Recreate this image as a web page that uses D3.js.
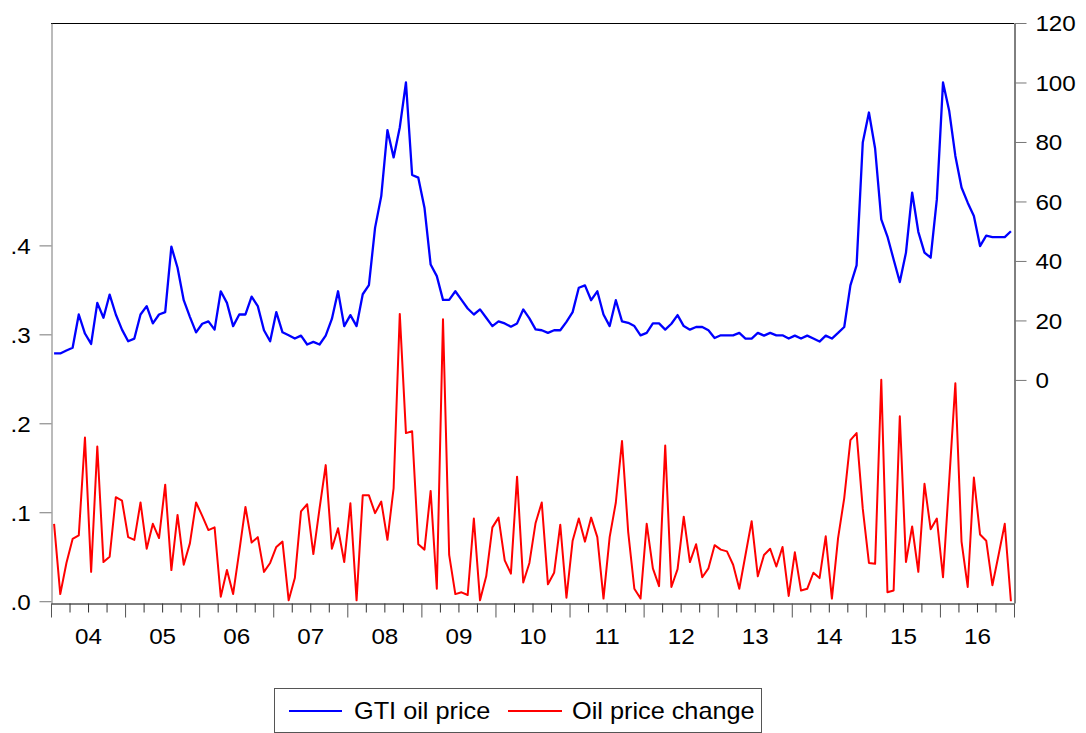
<!DOCTYPE html>
<html>
<head>
<meta charset="utf-8">
<script src="https://cdn.jsdelivr.net/npm/d3@7"></script>
<style>
  html, body { margin: 0; padding: 0; background: #fff; }
  svg { display: block; }
  text { font-family: "Liberation Sans", Arial, sans-serif; fill: #000; }
</style>
</head>
<body>
<svg id="chart" width="1086" height="733"></svg>
<script>
// Monthly observations, 2004M01 - 2016M12
const startYear = 2004;
const endYear = 2017;

// GTI oil price (right axis)
const gtiOilPrice = [
  8.9, 8.9, 9.9, 10.8, 22.0, 15.6, 12.1, 25.9, 20.9, 28.7, 22.0, 16.9,      // 2004
  13.0, 13.9, 22.0, 24.8, 19.0, 22.0, 22.8, 44.8, 37.7, 26.8, 21.2, 16.0,   // 2005
  18.9, 19.7, 16.9, 29.8, 25.9, 18.1, 22.0, 22.0, 28.0, 24.8, 16.7, 13.0,   // 2006
  22.8, 16.0, 15.0, 13.9, 14.9, 11.9, 12.8, 11.9, 14.9, 20.5, 29.8, 18.1,   // 2007
  21.8, 18.1, 28.8, 31.9, 51.2, 61.8, 84.0, 74.8, 84.9, 100.0, 68.9, 68.0,  // 2008
  57.9, 38.8, 34.9, 26.9, 26.9, 29.8, 26.9, 24.0, 22.0, 23.7, 20.9, 18.1,   // 2009
  19.7, 19.0, 17.9, 19.0, 23.7, 20.7, 17.0, 16.7, 15.8, 16.7, 16.7, 19.5,   // 2010
  22.8, 31.0, 31.8, 26.8, 29.8, 22.0, 18.1, 26.8, 19.7, 19.2, 18.1, 15.0,   // 2011
  15.8, 19.0, 19.0, 16.9, 18.9, 21.8, 18.1, 16.9, 17.8, 17.8, 16.7, 14.1,   // 2012
  15.0, 15.0, 15.0, 15.8, 13.9, 13.9, 15.8, 14.9, 15.8, 15.0, 15.0, 13.9,   // 2013
  14.9, 13.9, 14.9, 13.9, 12.9, 14.9, 13.9, 15.8, 17.8, 31.8, 38.5, 79.8,   // 2014
  89.9, 77.8, 54.0, 48.2, 40.5, 32.9, 42.8, 63.0, 49.8, 42.8, 41.1, 60.7,   // 2015
  100.0, 90.5, 75.3, 64.7, 59.6, 55.1, 45.0, 48.5, 48.0, 48.0, 48.0, 50.0   // 2016
];

// Oil price change (left axis)
const oilPriceChange = [
  .087, .008, .043, .070, .074, .184, .033, .174, .044, .050, .117, .113,   // 2004
  .072, .069, .111, .059, .087, .071, .131, .035, .097, .041, .065, .111,   // 2005
  .096, .080, .083, .005, .035, .008, .056, .106, .066, .072, .033, .043,   // 2006
  .061, .067, .001, .026, .101, .109, .053, .104, .153, .059, .082, .044,   // 2007
  .110, .001, .119, .119, .099, .112, .069, .127, .323, .189, .191, .064,   // 2008
  .058, .124, .014, .317, .052, .008, .010, .007, .093, .001, .028, .083,   // 2009
  .094, .046, .031, .140, .021, .043, .088, .111, .019, .032, .086, .004,   // 2010
  .068, .093, .067, .094, .072, .003, .072, .111, .180, .078, .014, .003,   // 2011
  .087, .037, .017, .175, .016, .036, .095, .044, .064, .027, .037, .063,   // 2012
  .058, .056, .041, .014, .052, .090, .028, .052, .059, .039, .061, .006,   // 2013
  .055, .012, .014, .032, .026, .073, .003, .071, .116, .181, .189, .104,   // 2014
  .043, .042, .249, .010, .012, .208, .044, .084, .033, .132, .081, .093,   // 2015
  .027, .135, .245, .067, .016, .139, .075, .068, .018, .052, .087, .000    // 2016
];

const leftTicks = [0, 0.1, 0.2, 0.3, 0.4];
const rightTicks = [0, 20, 40, 60, 80, 100, 120];
const yearLabels = ["04", "05", "06", "07", "08", "09", "10", "11", "12", "13", "14", "15", "16"];
const seriesNames = ["GTI oil price", "Oil price change"];
const seriesColors = ["#0000ff", "#ff0000"];

// ---- layout ----
const plot = { left: 51, right: 1014, top: 23, bottom: 603 };
const stretch = "scale(1.1,1)";
const labelFont = "'Liberation Sans', Arial, sans-serif";

const svg = d3.select("#chart");

// time position of each monthly observation (mid-month, in fractional years)
const t = gtiOilPrice.map((_, i) => startYear + (i + 0.5) / 12);

const x = d3.scaleLinear().domain([startYear, endYear]).range([plot.left, plot.right]);
const yLeft = d3.scaleLinear().domain([-0.002, 0.65]).range([plot.bottom, plot.top]);
const yRight = d3.scaleLinear().domain([-75, 120]).range([plot.bottom, plot.top]);

// frame: top edge
svg.append("line")
  .attr("x1", plot.left).attr("x2", plot.right)
  .attr("y1", plot.top + 0.5).attr("y2", plot.top + 0.5)
  .attr("stroke", "#000").attr("stroke-width", 1);

// left axis
const gLeft = svg.append("g")
  .attr("transform", `translate(${plot.left + 0.5},0)`)
  .call(d3.axisLeft(yLeft)
    .tickValues(leftTicks)
    .tickSize(12)
    .tickSizeOuter(0)
    .tickFormat(d => d3.format(".1f")(d).replace(/^0/, "")));
gLeft.select(".domain").attr("stroke", "#777");
gLeft.selectAll(".tick line").attr("stroke", "#777");
gLeft.selectAll(".tick text")
  .attr("x", -19).attr("dy", "0.36em")
  .attr("transform", stretch)
  .style("font-size", "22px").style("font-family", labelFont);

// right axis
const gRight = svg.append("g")
  .attr("transform", `translate(${plot.right + 0.5},0)`)
  .call(d3.axisRight(yRight)
    .tickValues(rightTicks)
    .tickSize(12)
    .tickSizeOuter(0)
    .tickFormat(d3.format("d")));
gRight.select(".domain").attr("stroke", "#000");
gRight.selectAll(".tick line").attr("stroke", "#777");
gRight.selectAll(".tick text")
  .attr("x", 19).attr("dy", "0.36em")
  .attr("transform", stretch)
  .style("font-size", "22px").style("font-family", labelFont);

// bottom axis: quarterly minor ticks
const quarters = d3.range(startYear * 4, endYear * 4 + 1).map(q => q / 4).filter(q => q % 1 !== 0);
const gMinor = svg.append("g")
  .attr("transform", `translate(0,${plot.bottom + 0.5})`)
  .call(d3.axisBottom(x).tickValues(quarters).tickSize(9).tickSizeOuter(0).tickFormat(""));
gMinor.select(".domain").attr("stroke", "#000");
gMinor.selectAll(".tick line").attr("stroke", "#333");

// bottom axis: yearly major ticks
const years = d3.range(startYear, endYear + 1);
const gMajor = svg.append("g")
  .attr("transform", `translate(0,${plot.bottom + 0.5})`)
  .call(d3.axisBottom(x).tickValues(years).tickSize(14).tickSizeOuter(0).tickFormat(""));
gMajor.select(".domain").remove();
gMajor.selectAll(".tick line").attr("stroke", "#555");

// year labels centred in each year
const gYears = svg.append("g")
  .attr("transform", `translate(0,${plot.bottom})`)
  .call(d3.axisBottom(x)
    .tickValues(years.slice(0, -1).map(y => y + 0.5))
    .tickSize(0)
    .tickFormat((d, i) => yearLabels[i]));
gYears.select(".domain").remove();
gYears.selectAll(".tick text")
  .attr("x", 0).attr("y", 41).attr("dy", 0)
  .attr("transform", stretch)
  .style("font-size", "22px").style("font-family", labelFont);

// series lines
const lineLeft = d3.line().x((d, i) => x(t[i])).y(d => yLeft(d));
const lineRight = d3.line().x((d, i) => x(t[i])).y(d => yRight(d));

svg.append("path")
  .datum(gtiOilPrice)
  .attr("d", lineRight)
  .attr("fill", "none")
  .attr("stroke", seriesColors[0])
  .attr("stroke-width", 2.3)
  .attr("stroke-linejoin", "round");

svg.append("path")
  .datum(oilPriceChange)
  .attr("d", lineLeft)
  .attr("fill", "none")
  .attr("stroke", seriesColors[1])
  .attr("stroke-width", 2)
  .attr("stroke-linejoin", "round");

// legend
const legend = svg.append("g");
legend.append("rect")
  .attr("x", 274.5).attr("y", 688.5)
  .attr("width", 487).attr("height", 44)
  .attr("fill", "#fff").attr("stroke", "#555").attr("stroke-width", 1);

const legendItems = [
  { x1: 289, x2: 342, tx: 354 },
  { x1: 508, x2: 562, tx: 572 }
];
legendItems.forEach((it, i) => {
  legend.append("line")
    .attr("x1", it.x1).attr("x2", it.x2)
    .attr("y1", 711).attr("y2", 711)
    .attr("stroke", seriesColors[i]).attr("stroke-width", 2.2);
  legend.append("text")
    .attr("transform", `translate(${it.tx},719) scale(1.1,1)`)
    .style("font-size", "23px")
    .text(seriesNames[i]);
});
</script>
</body>
</html>
